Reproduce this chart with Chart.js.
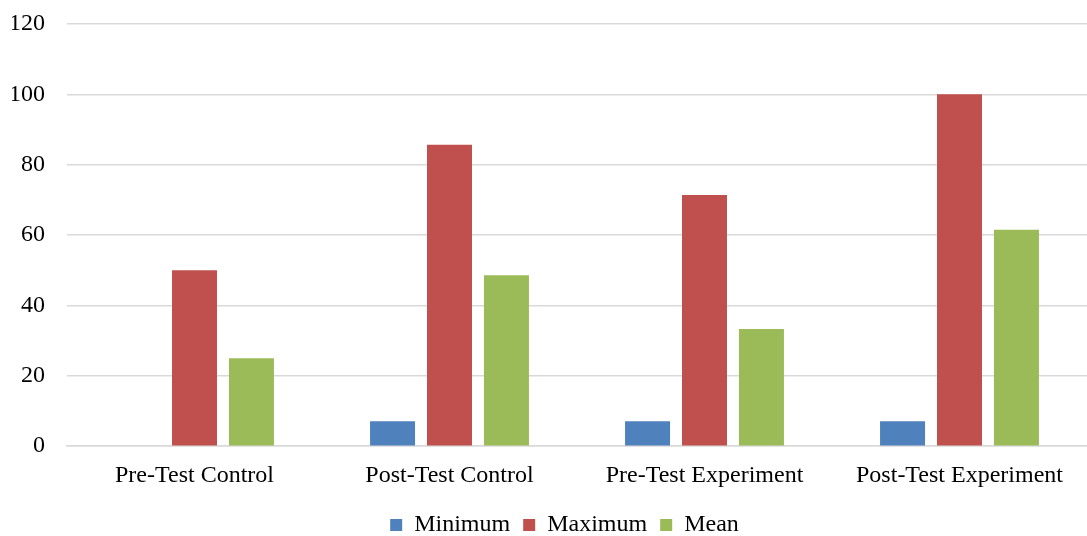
<!DOCTYPE html>
<html lang="en">
  <head>
    <meta charset="UTF-8" />
    <title>Test Scores</title>
    <script src="https://cdn.jsdelivr.net/npm/chart.js"></script>
    <style>
      html, body { margin: 0; padding: 0; background: #fff; }
      .wrap { width: 1087px; height: 536px; }
    </style>
  </head>
  <body>
    <div class="wrap"><canvas id="myChart"></canvas></div>

    <script>
      // data
      const categories = ["Pre-Test Control", "Post-Test Control", "Pre-Test Experiment", "Post-Test Experiment"];
      const minimum = [0, 7.1, 7.1, 7.1];
      const maximum = [50, 85.7, 71.4, 100];
      const mean = [25, 48.6, 33.3, 61.5];
      const yTicks = [0, 20, 40, 60, 80, 100, 120];

      const font = "'Liberation Serif', 'Times New Roman', serif";

      // nudge the legend a bit to the right, it sits under the plot area
      const legendShift = {
        id: "legendShift",
        afterLayout(chart) {
          chart.legend.left += 15;
          chart.legend.right += 15;
        },
      };

      new Chart(document.getElementById("myChart"), {
        type: "bar",
        data: {
          labels: categories,
          datasets: [
            { label: "Minimum", data: minimum, backgroundColor: "#4F81BD" },
            { label: "Maximum", data: maximum, backgroundColor: "#C0504D" },
            { label: "Mean", data: mean, backgroundColor: "#9BBB59" },
          ],
        },
        plugins: [legendShift],
        options: {
          responsive: true,
          maintainAspectRatio: false,
          animation: false,
          categoryPercentage: 0.67,
          barPercentage: 0.79,
          layout: { padding: { top: 24, right: 0, left: 12, bottom: -11 } },
          plugins: {
            legend: {
              position: "bottom",
              labels: {
                font: { family: font, size: 24 },
                color: "#000",
                boxWidth: 12,
                boxHeight: 12,
                padding: 13,
              },
            },
            tooltip: { enabled: false },
          },
          scales: {
            x: {
              grid: { display: false },
              border: { color: "#d9d9d9", width: 1.5 },
              ticks: { font: { family: font, size: 24 }, color: "#000", padding: 7 },
              afterFit: (scale) => {
                scale.height += 3;
                // keep the first/last label from pushing the plot inwards
                scale.paddingLeft = 0;
                scale.paddingRight = 0;
              },
            },
            y: {
              min: 0,
              max: 120,
              afterBuildTicks: (axis) => {
                axis.ticks = yTicks.map((v) => ({ value: v }));
              },
              afterFit: (scale) => {
                scale.width = 55;
                scale.paddingTop = 0;
                scale.paddingBottom = 0;
              },
              grid: { color: "#d9d9d9", lineWidth: 1.5, drawTicks: false },
              border: { display: false },
              ticks: { font: { family: font, size: 24 }, color: "#000", padding: 22 },
            },
          },
        },
      });
    </script>
  </body>
</html>
